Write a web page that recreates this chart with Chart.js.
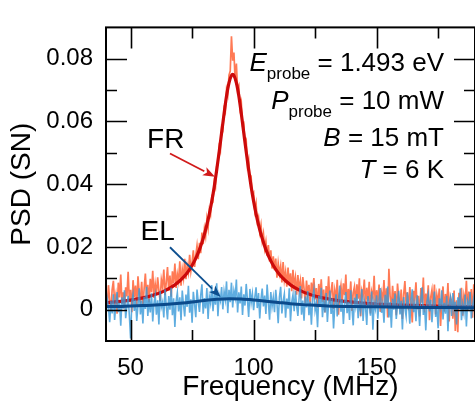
<!DOCTYPE html>
<html><head><meta charset="utf-8">
<script src="https://cdn.jsdelivr.net/npm/chart.js@4.4.1/dist/chart.umd.min.js"></script>
<style>html,body{margin:0;padding:0;background:#fff}#wrap{width:475px;height:407px}</style>
</head><body><div id="wrap"><canvas id="c" width="475" height="407"></canvas></div>
<script>
// ---- data (PSD values in units of 1e-3 SN) ----
const PSD_UNIT = 1e-3;
const freqStart = 40, freqStep = 0.5; // MHz, sampling of the measured spectra

const frNoise_mPSD = [
5.1,1.2,7.8,3.0,-0.5,6.4,9.2,2.1,4.7,-1.3,8.6,3.9,11.2,1.8,5.5,0.4,7.1,4.2,12.1,2.6,6.3,-0.8,9.4,4.0,7.7,1.5,10.6,5.2,3.1,8.9,0.9,6.7,11.5,4.4,7.9,2.3,9.8,5.6,12.4,3.7,8.2,
4.9,10.3,6.1,2.8,9.5,7.2,12.8,4.6,8.7,13.6,6.0,10.9,4.1,12.2,8.4,14.7,6.9,11.3,9.0,15.4,7.6,12.9,10.1,16.2,9.7,14.0,11.8,17.5,12.3,15.1,
18.9,13.6,17.2,20.4,16.1,21.3,18.0,24.6,20.9,25.8,23.4,28.9,26.0,31.7,30.2,35.8,34.9,40.6,39.1,45.7,46.3,51.9,50.6,58.2,57.4,64.1,63.0,70.2,68.5,74.8,
76.1,87.2,79.4,82.0,73.0,78.5,70.1,71.3,64.2,66.0,58.9,59.4,52.7,53.8,46.1,47.9,41.5,42.2,36.8,37.4,
31.6,33.9,28.2,29.5,24.8,27.1,22.0,24.3,19.5,21.8,17.2,20.6,15.4,18.9,13.1,17.0,12.6,16.3,10.2,14.8,
11.5,13.9,8.7,15.2,9.4,12.1,7.3,13.4,8.0,11.6,5.9,12.7,7.5,10.2,4.8,11.0,6.3,9.1,3.6,10.4,
6.8,2.1,9.3,4.7,7.9,1.4,8.6,5.2,10.1,3.3,6.9,0.6,8.2,4.0,9.7,2.5,6.4,-0.9,7.5,3.8,
10.6,1.9,5.8,8.8,0.2,6.1,3.4,9.5,-1.6,5.0,7.7,2.2,8.4,4.6,11.2,0.8,6.6,3.0,9.0,-0.4,
5.4,7.3,1.7,8.1,3.5,10.0,-2.1,6.0,4.3,9.6,1.1,7.0,2.8,8.9,-1.2,5.7,3.9,10.8,0.5,6.2,
2.4,8.0,-0.7,5.3,3.1,9.4,1.0,6.8,-2.5,13.0,4.2,0.3,7.6,2.0,5.9,-1.8,8.3,3.6,0.9,6.4,
-3.0,4.8,9.1,1.5,5.5,-0.2,7.2,2.7,-4.1,6.0,3.3,8.7,0.1,4.4,-2.2,6.9,2.2,10.2,-0.9,5.1,
1.6,7.8,-3.4,3.9,6.3,0.4,8.0,-1.5,4.6,2.0,6.7,-5.2,3.2,7.4,-0.6,5.0,1.2,8.5,-3.8,4.1,
2.6,-2.9,6.1,-6.8,3.0,-7.2,5.4,0.7,7.0,-1.9,4.5,2.1,9.2,-0.3,5.8,1.4,6.6,-2.6,8.1,3.4
];

const elNoise_mPSD = [
-2.1,3.4,0.6,-4.0,2.8,-1.2,4.9,-3.3,1.7,5.6,-0.8,2.2,-5.1,3.9,0.3,6.2,-2.7,1.1,4.4,-1.9,
-9.2,2.6,5.0,-0.4,3.2,-3.6,1.4,6.8,-1.5,2.9,-4.4,4.1,0.2,7.3,-2.0,3.5,-0.9,5.2,-3.8,2.0,4.6,
-1.6,3.0,-4.7,5.9,0.8,2.4,-2.5,6.5,1.2,-3.1,4.3,0.0,7.0,-1.8,3.6,-5.5,2.7,5.4,-0.6,3.9,
-3.4,6.1,1.5,-2.2,4.8,0.9,7.6,-1.0,3.3,-4.2,
5.7,1.8,-2.4,6.4,2.5,-0.7,4.6,8.1,-1.3,3.7,0.4,6.9,-3.0,4.2,2.1,7.8,-0.5,5.0,1.6,8.4,
-2.1,4.7,2.9,7.2,0.1,5.8,3.2,9.0,-1.1,6.3,
2.4,8.6,0.7,6.0,3.8,9.6,-0.9,5.5,2.0,7.4,-1.7,4.9,1.3,8.2,3.1,-2.3,6.6,2.2,5.1,-0.2,
4.0,7.1,0.5,5.3,-2.8,3.4,6.7,1.0,4.5,-1.4,8.0,2.3,-3.2,5.6,0.9,3.9,-0.8,6.3,1.9,-4.3,
4.1,7.3,-1.2,2.7,5.0,-2.6,3.5,0.3,6.8,-3.7,2.4,4.7,-0.5,6.0,1.1,-2.0,3.8,7.5,-1.6,2.9,
-3.5,4.2,0.7,5.9,-1.8,2.6,-4.8,3.7,6.4,-0.3,2.0,-5.6,4.4,1.3,7.0,-2.4,3.1,-0.9,5.3,-3.9,
2.2,6.1,-1.4,3.6,-6.0,1.5,4.9,-2.2,2.8,7.7,-0.7,3.3,-4.6,1.9,5.6,-1.1,2.5,-3.3,6.2,0.4,
-5.0,3.8,1.0,5.0,-2.7,2.1,-0.4,6.6,-3.6,2.9,0.8,-4.9,4.3,1.6,-1.9,5.8,-6.4,2.3,0.2,4.6,
-2.9,3.0,6.9,-1.0,1.8,-4.2,4.7,0.6,7.4,-2.5,2.4,-5.8,3.5,0.0,5.1,-3.0,1.7,6.0,-1.5,2.8,
-6.3,4.0,0.5,-2.1,5.5,1.2,-4.5,3.2,6.5,-0.8,2.0,-3.7,4.6,0.9,-5.2,3.4,7.1,-1.7,1.4,-6.6,
2.7,4.9,-0.6,3.1,-4.0,1.6,5.8,-2.3,0.8,-5.9,3.6,1.0,6.2,-3.1,2.2,-1.3,4.4,-6.9,1.9,3.8,
-2.0,5.3,-0.2,2.5,-4.7,3.9,0.3,6.7,-3.4,1.5,-1.1,4.8,-5.4,2.6,0.7,5.6,-2.8,1.1,3.7,-1.6
];

const frFitFreq = [40,45,50,55,60,64,68,72,74,76,78,80,81,82,83,84,85,86,87,88,89,90,91,91.5,92,93,94,95,96,97,98,99,100,101,102,103,105,107,109,111,115,119,123,128,133,138,143,150,160,170,180,190];
const frFitVal_mPSD = [2.17,2.54,3.04,3.75,4.81,6.05,7.89,10.78,12.85,15.55,19.15,24.0,27.0,30.5,34.55,39.2,44.5,50.3,56.4,62.5,68.1,72.3,74.7,75.0,74.7,72.3,68.1,62.5,56.4,50.3,44.5,39.2,34.55,30.5,27.0,24.0,19.15,15.55,12.85,10.78,7.89,6.05,4.81,3.75,3.04,2.54,2.17,1.8,1.45,1.24,1.08,0.96];

const elFitFreq = [40,45,50,55,60,65,70,75,80,85,90,95,100,105,110,115,120,125,130,140,150,160,170,180,190];
const elFitVal_mPSD = [1.0,1.0,1.2,1.3,1.5,1.7,2.0,2.4,2.9,3.3,3.5,3.4,3.1,2.7,2.3,1.9,1.6,1.4,1.2,1.0,0.9,0.8,0.7,0.7,0.6];

const xTickLabels = [50,100,150];
const xMinorTicks = [75,125,175];
const yTickLabels = [0,0.02,0.04,0.06,0.08];
const yMinorTicks = [0.01,0.03,0.05,0.07];

// ---- build library data ----
const noisePts = arr => arr.map((v,i)=>({x: freqStart + i*freqStep, y: v*PSD_UNIT}));
const fitPts = (fx, fy) => fx.map((f,i)=>({x:f, y:fy[i]*PSD_UNIT}));

const FONT = "'Liberation Sans', Arial, Helvetica, sans-serif";

function arrow(ctx, x1, y1, x2, y2, color){
  ctx.save();
  ctx.strokeStyle = color; ctx.fillStyle = color; ctx.lineWidth = 1.8;
  const a = Math.atan2(y2-y1, x2-x1), L = 12, W = 4.5;
  const bx = x2 - L*Math.cos(a), by = y2 - L*Math.sin(a);
  ctx.beginPath(); ctx.moveTo(x1,y1); ctx.lineTo(bx,by); ctx.stroke();
  ctx.beginPath();
  ctx.moveTo(x2,y2);
  ctx.lineTo(bx + W*Math.sin(a), by - W*Math.cos(a));
  ctx.lineTo(bx + 3*Math.cos(a), by + 3*Math.sin(a));
  ctx.lineTo(bx - W*Math.sin(a), by + W*Math.cos(a));
  ctx.closePath(); ctx.fill();
  ctx.restore();
}

const annot = {
  id: 'annot',
  afterDatasetsDraw(chart){
    const ctx = chart.ctx, xs = chart.scales.x, ys = chart.scales.y;
    const X = v => xs.getPixelForValue(v), Y = v => ys.getPixelForValue(v);
    ctx.save();
    ctx.fillStyle = '#000';
    ctx.textBaseline = 'alphabetic';
    ctx.font = `28px ${FONT}`;
    ctx.textAlign = 'center';
    ctx.fillText('FR', X(64.3), Y(0.0516));
    ctx.fillText('EL', X(61.0), Y(0.0222));
    arrow(ctx, X(66.0), Y(0.0498), X(84.3), Y(0.0424), '#d11a1a');
    arrow(ctx, X(66.0), Y(0.0199), X(86.6), Y(0.0040), '#0d4f8f');
    const xr = X(177.4);
    const main = `26px ${FONT}`, ital = `italic 26px ${FONT}`, sub = `17px ${FONT}`;
    function line(sym, subTxt, rest, yb){
      ctx.textAlign = 'left';
      ctx.font = main; const wr = ctx.measureText(rest).width;
      ctx.font = sub; const ws = subTxt ? ctx.measureText(subTxt).width : 0;
      ctx.font = ital; const wsym = ctx.measureText(sym).width;
      let x = xr - wr - ws - wsym;
      ctx.font = ital; ctx.fillText(sym, x, yb); x += wsym;
      if (subTxt){ ctx.font = sub; ctx.fillText(subTxt, x, yb + 8); x += ws; }
      ctx.font = main; ctx.fillText(rest, x, yb);
    }
    line('E', 'probe', ' = 1.493 eV', Y(0.0760));
    line('P', 'probe', ' = 10 mW', Y(0.0641));
    line('B', '', ' = 15 mT', Y(0.0523));
    line('T', '', ' = 6 K', Y(0.0421));
    ctx.restore();
  },
  afterDraw(chart){
    const ctx = chart.ctx, a = chart.chartArea, xs = chart.scales.x, ys = chart.scales.y;
    ctx.save();
    ctx.strokeStyle = '#000';
    ctx.lineWidth = 1.6;
    const major = 21, minor = 11;
    ctx.beginPath();
    const vx = (v, len) => { const p = Math.round(xs.getPixelForValue(v)) + 0.5;
      ctx.moveTo(p, a.bottom); ctx.lineTo(p, a.bottom - len);
      ctx.moveTo(p, a.top); ctx.lineTo(p, a.top + len); };
    const hy = (v, len) => { const p = Math.round(ys.getPixelForValue(v)) + 0.5;
      ctx.moveTo(a.left, p); ctx.lineTo(a.left + len, p);
      ctx.moveTo(a.right, p); ctx.lineTo(a.right - len, p); };
    xTickLabels.forEach(v => vx(v, major));
    xMinorTicks.forEach(v => vx(v, minor));
    yTickLabels.forEach(v => hy(v, major));
    yMinorTicks.forEach(v => hy(v, minor));
    ctx.stroke();
    ctx.lineWidth = 2;
    ctx.strokeRect(a.left, a.top, a.right - a.left, a.bottom - a.top);
    ctx.restore();
  }
};

new Chart(document.getElementById('c'), {
  type: 'line',
  data: {
    datasets: [
      { label: 'EL fit', data: fitPts(elFitFreq, elFitVal_mPSD), borderColor: '#0b4a8b', borderWidth: 3, pointRadius: 0, cubicInterpolationMode: 'monotone', order: 0 },
      { label: 'EL', data: noisePts(elNoise_mPSD), borderColor: 'rgba(55,152,216,0.8)', borderWidth: 1.6, pointRadius: 0, tension: 0, order: 1 },
      { label: 'FR fit', data: fitPts(frFitFreq, frFitVal_mPSD), borderColor: '#cc0a0a', borderWidth: 3.2, pointRadius: 0, cubicInterpolationMode: 'monotone', order: 2 },
      { label: 'FR', data: noisePts(frNoise_mPSD), borderColor: '#ff7a55', borderWidth: 1.7, pointRadius: 0, tension: 0, order: 3 }
    ]
  },
  options: {
    responsive: false, animation: false, devicePixelRatio: 1,
    layout: { padding: { top: 7, right: 0, left: 0, bottom: 0 } },
    plugins: { legend: { display: false }, tooltip: { enabled: false } },
    scales: {
      x: {
        type: 'linear', min: 40, max: 190,
        grid: { display: false, drawTicks: false }, border: { display: false },
        afterBuildTicks: s => { s.ticks = xTickLabels.map(v => ({ value: v })); },
        afterFit: s => { s.height = 66; },
        ticks: { color: '#000', font: { family: FONT, size: 24 }, padding: 13, maxRotation: 0, autoSkip: false, callback: v => String(v) },
        title: { display: true, text: 'Frequency (MHz)', color: '#000', font: { family: FONT, size: 28 }, padding: { top: 0, bottom: 3 } }
      },
      y: {
        type: 'linear', min: -0.01, max: 0.09,
        grid: { display: false, drawTicks: false }, border: { display: false },
        afterBuildTicks: s => { s.ticks = yTickLabels.map(v => ({ value: v })); },
        afterFit: s => { s.width = 106; },
        ticks: { color: '#000', font: { family: FONT, size: 24 }, padding: 13, autoSkip: false,
          callback: v => (Math.abs(v) < 1e-9 ? '0' : v.toFixed(2)) },
        title: { display: true, text: 'PSD (SN)', color: '#000', font: { family: FONT, size: 28 }, padding: { top: 5, bottom: 0 } }
      }
    }
  },
  plugins: [annot]
});
</script>
</body></html>
